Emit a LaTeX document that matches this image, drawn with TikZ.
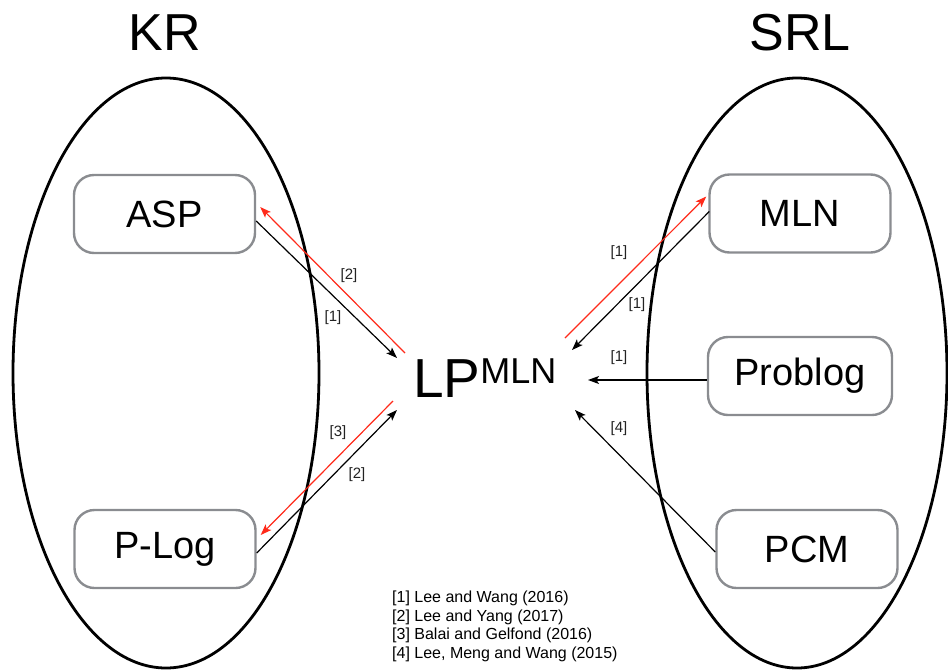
\documentclass[tikz,border=0pt]{standalone}
\usepackage{fontspec}
\setmainfont{Liberation Sans}
\usepackage{graphicx}
\usetikzlibrary{arrows.meta,calc}
\definecolor{boxgray}{HTML}{8A8C90}
\definecolor{arrred}{HTML}{FF2A1A}
\definecolor{lbl}{HTML}{222222}
\begin{document}
\begin{tikzpicture}[x=1pt,y=-1pt,
  box/.style={draw=boxgray,line width=2.4pt,rounded corners=20pt,
    minimum width=181pt,minimum height=78pt,inner sep=0pt,
    font=\fontsize{38}{40}\selectfont},
  title/.style={inner sep=0pt,font=\fontsize{52}{56}\selectfont},
  blk/.style={draw=black,line width=1.2pt,-{Stealth[length=11pt,width=8pt,inset=2.5pt]}},
  red/.style={draw=arrred,line width=1.2pt,-{Stealth[length=11pt,width=8pt,inset=2.5pt]}},
  ref/.style={inner sep=0pt,text=lbl,font=\fontsize{15}{17}\selectfont},
  refs/.style={inner sep=0pt,anchor=north west,align=left,font=\fontsize{16}{18.5}\selectfont}]
\useasboundingbox (0,0) rectangle (948,670);
% groups
\draw[line width=2.8pt] (166,373) ellipse [x radius=153, y radius=295];
\draw[line width=2.8pt] (797,373) ellipse [x radius=150, y radius=295];
\node[title] (kr) at (165,33) {KR};
\node[title] (srl) at (800,33) {SRL};
% boxes
\node[box] (asp) at (164.5,214) {ASP};
\node[box] (plog) at (165,549) {P-Log};
\node[box] (mln) at (800,213.5) {MLN};
\node[box,minimum width=184pt] (problog) at (800,376) {Problog};
\node[box] (pcm) at (807,549) {PCM};
% center
\node[anchor=base west,inner sep=0pt] (lp) at (413,397)
  {\fontsize{55}{60}\selectfont LP\raisebox{14pt}{\fontsize{36}{40}\selectfont MLN}};
\coordinate (lpA) at (397,358);
\coordinate (lpB) at (405,353);
\coordinate (lpC) at (397,410);
\coordinate (lpD) at (393,401);
\coordinate (lpE) at (565,338);
\coordinate (lpF) at (572,350);
\coordinate (lpG) at (588,380);
\coordinate (lpH) at (575,410);
% connectors
\draw[blk] ($(asp.east)+(0,7)$) -- (lpA);
\draw[red] (lpB) -- ($(asp.east)+(4,-7)$);
\draw[blk] ($(plog.east)+(0,4)$) -- (lpC);
\draw[red] (lpD) -- ($(plog.east)+(4,-14)$);
\draw[red] (lpE) -- ($(mln.west)+(-2,-17)$);
\draw[blk] ($(mln.west)+(1,-2)$) -- (lpF);
\draw[blk] ($(problog.west)+(0,4)$) -- (lpG);
\draw[blk] ($(pcm.west)+(0,3)$) -- (lpH);
% labels
\node[ref] (l1) at (349,276) {[2]};
\node[ref] (l2) at (333,318) {[1]};
\node[ref] (l3) at (338,433) {[3]};
\node[ref] (l4) at (357,475) {[2]};
\node[ref] (l5) at (619,253) {[1]};
\node[ref] (l6) at (637,305) {[1]};
\node[ref] (l7) at (619,358) {[1]};
\node[ref] (l8) at (619,429) {[4]};
% references
\node[refs] (bib) at (392,591) {{[1]} Lee and Wang (2016)\\{[2]} Lee and Yang (2017)\\{[3]} Balai and Gelfond (2016)\\{[4]} Lee, Meng and Wang (2015)};
\end{tikzpicture}
\end{document}
